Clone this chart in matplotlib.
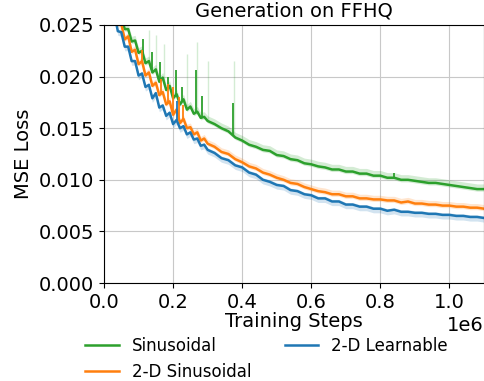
import numpy as np
from matplotlib import pyplot as plt

# training steps: dense logging early, sparser later
steps = list(range(0, 301000, 10000)) + list(range(320000, 1101000, 20000))

sinusoidal = [
    0.0292, 0.0288, 0.0274, 0.0273, 0.0259, 0.0258, 0.0246, 0.0246, 0.0234, 0.0235,
    0.0223, 0.0225, 0.0213, 0.0215, 0.0204, 0.0207, 0.0195, 0.0199, 0.0187, 0.0191,
    0.0179, 0.0183, 0.0173, 0.0178, 0.0168, 0.0171, 0.0164, 0.0166, 0.0160, 0.0161,
    0.0157,
    0.0154, 0.0150, 0.0147, 0.0141, 0.0138, 0.0134, 0.0132, 0.0129, 0.0128, 0.0124,
    0.0123, 0.0120, 0.0119, 0.0116, 0.0115, 0.0113, 0.0112, 0.0110, 0.0110, 0.0108,
    0.0108, 0.0106, 0.0106, 0.0104, 0.0104, 0.0102, 0.0102, 0.0100, 0.0100, 0.0099,
    0.0098, 0.0097, 0.0097, 0.0096, 0.0095, 0.0094, 0.0093, 0.0092, 0.0091, 0.0091,
]
sinusoidal_2d = [
    0.0290, 0.0286, 0.0269, 0.0267, 0.0250, 0.0251, 0.0236, 0.0239, 0.0224, 0.0226,
    0.0212, 0.0215, 0.0201, 0.0204, 0.0191, 0.0194, 0.0182, 0.0185, 0.0173, 0.0176,
    0.0163, 0.0168, 0.0155, 0.0159, 0.0150, 0.0151, 0.0144, 0.0146, 0.0138, 0.0140,
    0.0135,
    0.0132, 0.0127, 0.0125, 0.0120, 0.0117, 0.0113, 0.0111, 0.0107, 0.0105, 0.0102,
    0.0100, 0.0097, 0.0096, 0.0093, 0.0091, 0.0089, 0.0088, 0.0086, 0.0086, 0.0084,
    0.0084, 0.0082, 0.0082, 0.0081, 0.0081, 0.0080, 0.0080, 0.0078, 0.0079, 0.0077,
    0.0077, 0.0076, 0.0076, 0.0075, 0.0075, 0.0074, 0.0074, 0.0073, 0.0073, 0.0072,
]
learnable_2d = [
    0.0285, 0.0281, 0.0264, 0.0261, 0.0244, 0.0243, 0.0229, 0.0229, 0.0215, 0.0215,
    0.0201, 0.0203, 0.0190, 0.0192, 0.0179, 0.0184, 0.0170, 0.0172, 0.0162, 0.0165,
    0.0154, 0.0158, 0.0150, 0.0152, 0.0144, 0.0146, 0.0139, 0.0140, 0.0133, 0.0134,
    0.0129,
    0.0126, 0.0121, 0.0119, 0.0114, 0.0112, 0.0107, 0.0105, 0.0100, 0.0098, 0.0095,
    0.0094, 0.0090, 0.0089, 0.0086, 0.0085, 0.0082, 0.0082, 0.0079, 0.0079, 0.0076,
    0.0076, 0.0074, 0.0074, 0.0072, 0.0072, 0.0070, 0.0071, 0.0069, 0.0069, 0.0068,
    0.0068, 0.0067, 0.0067, 0.0066, 0.0066, 0.0065, 0.0065, 0.0064, 0.0064, 0.0063,
]

# loss spikes (step, peak)
sin_spike_steps = [113000, 138000, 162000, 185000, 208000, 225000, 266000, 285000, 372000, 840000]
sin_spike_tops = [0.0236, 0.0224, 0.0214, 0.0200, 0.0206, 0.0190, 0.0206, 0.0181, 0.0174, 0.0107]
sin_band_spike_steps = [130000, 150000, 175000, 240000, 268000, 300000, 375000]
sin_band_spike_tops = [0.0245, 0.0240, 0.0232, 0.0222, 0.0234, 0.0215, 0.0215]
sin2d_spike_steps = [110000, 165000, 185000, 200000, 218000, 228000]
sin2d_spike_tops = [0.0226, 0.0198, 0.0193, 0.0190, 0.0180, 0.0172]
learn_spike_steps = [210000]
learn_spike_tops = [0.0176]

series = [
    ('Sinusoidal', sinusoidal, '#2ca02c', (0.0002, 0.0005),
     sin_spike_steps, sin_spike_tops),
    ('2-D Sinusoidal', sinusoidal_2d, '#ff7f0e', (0.0002, 0.0004),
     sin2d_spike_steps, sin2d_spike_tops),
    ('2-D Learnable', learnable_2d, '#1f77b4', (0.0004, 0.0002),
     learn_spike_steps, learn_spike_tops),
]

fig = plt.figure(figsize=(4.84, 3.81), dpi=100)
ax = fig.add_axes([0.2149, 0.2572, 0.7851, 0.6772])

x = np.array(steps)
for name, vals, color, (lo, hi), sp_x, sp_y in series:
    y = np.array(vals)
    ax.fill_between(x, y - lo, y + hi, color=color, alpha=0.2, lw=0)
    ax.plot(x, y, color=color, lw=1.8, label=name)
    base = np.interp(sp_x, x, y)
    ax.vlines(sp_x, base, sp_y, color=color, lw=1.3)
    if name == 'Sinusoidal':
        b2 = np.interp(sin_band_spike_steps, x, y)
        ax.vlines(sin_band_spike_steps, b2, sin_band_spike_tops, color=color, alpha=0.2, lw=1)

ax.set_xlim(0, 1.1e6)
ax.set_ylim(0, 0.025)
ax.set_yticks([0, 0.005, 0.01, 0.015, 0.02, 0.025])
ax.grid(True, color='#c8c8c8')
ax.set_axisbelow(True)
ax.tick_params(labelsize=14)
ax.xaxis.get_offset_text().set_fontsize(14)
ax.set_xlabel('Training Steps', fontsize=14, labelpad=0)
ax.set_ylabel('MSE Loss', fontsize=14)
ax.set_title('Generation on FFHQ', fontsize=14)

fig.legend(loc='upper center', bbox_to_anchor=(0.551, 0.134), ncol=2,
           frameon=False, fontsize=12, borderaxespad=0)

fig.savefig('out.png', dpi=100)
